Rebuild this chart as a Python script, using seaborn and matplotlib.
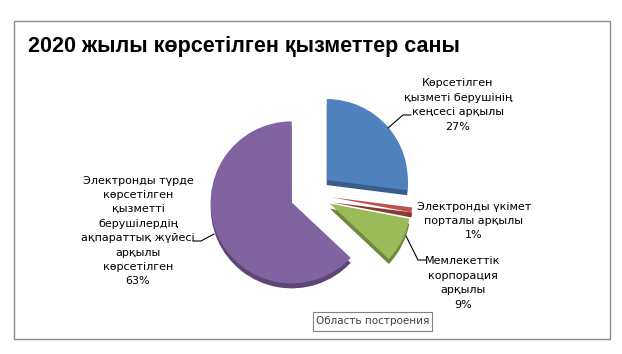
import matplotlib
matplotlib.use("Agg")
import matplotlib.pyplot as plt
import seaborn as sns
from matplotlib.patches import Rectangle

sns.set_theme(style="white")
plt.rcParams['font.family'] = ['DejaVu Sans']

# data
title = "2020 жылы көрсетілген қызметтер саны"
labels = [
    "Көрсетілген\nқызметі берушінің\nкеңсесі арқылы",
    "Электронды үкімет\nпорталы арқылы",
    "Мемлекеттік\nкорпорация\nарқылы",
    "Электронды түрде\nкөрсетілген\nқызметті\nберушілердің\nақпараттық жүйесі\nарқылы\nкөрсетілген",
]
shares = [27, 1, 9, 63]
colors = ["#4F81BD", "#C0504D", "#9BBB59", "#8064A2"]
side_colors = ["#385D8A", "#8C3836", "#71893F", "#5C4776"]

W, H = 622, 354
fig = plt.figure(figsize=(W / 100, H / 100), dpi=100)
fig.patch.set_facecolor("white")

# pie axes (center ~ (311,194) px, radius ~81 px)
cx, cy, r = 311, 194, 81
half = 1.5 * r
ax = fig.add_axes([(cx - half) / W, (H - cy - half) / H, 2 * half / W, 2 * half / H])
explode = [0.26] * len(shares)
depth = 5 / r

# side of the 3d pie, then the top
ax.pie(shares, colors=side_colors, startangle=90, counterclock=False,
       explode=explode, center=(0, -depth), wedgeprops=dict(linewidth=0))
ax.pie(shares, colors=colors, startangle=90, counterclock=False,
       explode=explode, wedgeprops=dict(linewidth=0))
ax.set_xlim(-1.5, 1.5)
ax.set_ylim(-1.5, 1.5)
ax.set_aspect("auto")
ax.axis("off")

# overlay in pixel coordinates for frame, title and labels
ov = fig.add_axes([0, 0, 1, 1], zorder=5)
ov.set_xlim(0, W)
ov.set_ylim(H, 0)
ov.axis("off")
ov.patch.set_alpha(0)

ov.add_patch(Rectangle((14, 21), 596, 318, fill=False, edgecolor="#8C8C8C", linewidth=1))
ov.text(28, 46, title, fontsize=15.5, fontweight="bold", color="black", ha="left", va="center",
        family="Liberation Sans")

lab_kw = dict(fontsize=8, color="black", ha="center", va="center", linespacing=1.55)
ov.text(458, 105, labels[0] + f"\n{shares[0]}%", **lab_kw)
ov.text(474, 221, labels[1] + f"\n{shares[1]}%", **lab_kw)
ov.text(463, 283, labels[2] + f"\n{shares[2]}%", **lab_kw)
ov.text(138, 231, labels[3] + f"\n{shares[3]}%", **lab_kw)

line_kw = dict(color="black", linewidth=0.8)
ov.plot([388, 403, 411], [128, 115, 115], **line_kw)
ov.plot([406, 418, 426], [236, 260, 260], **line_kw)
ov.plot([193, 201, 214], [241, 241, 234], **line_kw)

# hover tooltip from the source screenshot
ov.add_patch(Rectangle((313, 312), 119, 19, facecolor="white", edgecolor="#808080", linewidth=0.8))
ov.text(372.5, 321.5, "Область построения", fontsize=7.5, color="#404040", ha="center", va="center")

fig.savefig("out.png", dpi=100)
